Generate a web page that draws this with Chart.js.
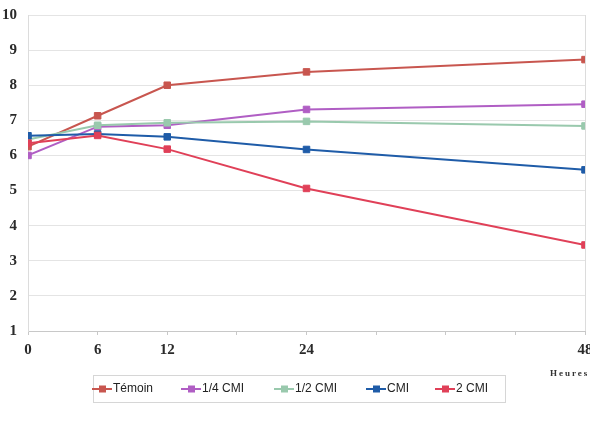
<!DOCTYPE html>
<html>
<head>
<meta charset="utf-8">
<script src="https://cdn.jsdelivr.net/npm/chart.js@4/dist/chart.umd.min.js"></script>
<style>
  html, body { margin: 0; padding: 0; background: #fff; overflow: hidden; }
  #wrap { width: 600px; height: 427px; }
</style>
</head>
<body>
<div id="wrap"><canvas id="c" width="600" height="427"></canvas></div>
<script>
const hours = [0, 6, 12, 24, 48];
const labeledHours = [0, 6, 12, 24, 48];
const seriesNames = ['Témoin', '1/4 CMI', '1/2 CMI', 'CMI', '2 CMI'];
const temoin   = [6.25, 7.13, 8.00, 8.38, 8.73];
const quartCMI = [6.00, 6.82, 6.86, 7.31, 7.46];
const demiCMI  = [6.45, 6.86, 6.93, 6.97, 6.84];
const cmi      = [6.56, 6.61, 6.53, 6.17, 5.59];
const deuxCMI  = [6.35, 6.57, 6.18, 5.06, 3.45];
const axisTitle = 'Heures';

const colors = ['#c8564f', '#b05ec4', '#99c9ad', '#1f5ca8', '#e04058'];
const values = [temoin, quartCMI, demiCMI, cmi, deuxCMI];

const datasets = values.map((v, i) => ({
  label: seriesNames[i],
  data: hours.map((h, j) => ({ x: h, y: v[j] })),
  borderColor: colors[i],
  backgroundColor: colors[i],
  borderWidth: 2,
  pointStyle: 'rect',
  pointRadius: 4.6,
  pointBorderWidth: 1,
  pointBorderColor: colors[i],
  pointBackgroundColor: colors[i],
  tension: 0,
  order: values.length - 1 - i
}));

const legendPlugin = {
  id: 'boxLegend',
  afterDraw(chart) {
    const ctx = chart.ctx;
    ctx.save();
    ctx.fillStyle = '#ffffff';
    ctx.strokeStyle = '#d6d6d6';
    ctx.lineWidth = 1;
    ctx.fillRect(93.5, 375.5, 412, 27);
    ctx.strokeRect(93.5, 375.5, 412, 27);
    const starts = [92, 181, 274, 366, 435];
    const cy = 389;
    ctx.font = '12px "Liberation Sans", Arial, sans-serif';
    ctx.textBaseline = 'middle';
    ctx.textAlign = 'left';
    chart.data.datasets.forEach((ds, i) => {
      const x0 = starts[i];
      ctx.strokeStyle = ds.borderColor;
      ctx.lineWidth = 2;
      ctx.beginPath();
      ctx.moveTo(x0, cy);
      ctx.lineTo(x0 + 20, cy);
      ctx.stroke();
      ctx.fillStyle = ds.borderColor;
      ctx.fillRect(x0 + 7, cy - 3.5, 7, 7);
      ctx.fillStyle = '#222';
      ctx.fillText(ds.label, x0 + 21, cy);
    });
    ctx.font = 'bold 9px "Liberation Serif", "Times New Roman", serif';
    ctx.fillStyle = '#333';
    ctx.textBaseline = 'middle';
    try { ctx.letterSpacing = '2px'; } catch (e) {}
    ctx.fillText(axisTitle, 550, 374);
    ctx.restore();
  }
};

new Chart(document.getElementById('c'), {
  type: 'line',
  data: { datasets },
  plugins: [legendPlugin],
  options: {
    responsive: false,
    animation: false,
    devicePixelRatio: 1,
    layout: { padding: { top: 15, right: 15, left: 0, bottom: 0 } },
    plugins: { legend: { display: false }, tooltip: { enabled: false } },
    scales: {
      x: {
        type: 'linear',
        min: 0,
        max: 48,
        afterFit(s) { s.height = 96; s.paddingLeft = 0; s.paddingRight = 0; },
        ticks: {
          stepSize: 6,
          autoSkip: false,
          maxRotation: 0,
          padding: 6,
          color: '#2a2a2a',
          font: { family: '"Liberation Serif", "Times New Roman", serif', size: 15, weight: 'bold' },
          callback: (v) => labeledHours.includes(v) ? String(v) : ''
        },
        grid: {
          drawOnChartArea: true,
          drawTicks: true,
          tickLength: 4,
          color: (c) => (c.tick && c.tick.value === 48) ? '#dcdcdc' : 'rgba(0,0,0,0)',
          tickColor: '#c8c8c8'
        },
        border: { display: true, color: '#c8c8c8', width: 1 }
      },
      y: {
        min: 1,
        max: 10,
        afterFit(s) { s.width = 28; s.paddingTop = 0; s.paddingBottom = 0; },
        ticks: {
          stepSize: 1,
          padding: 11,
          color: '#2a2a2a',
          font: { family: '"Liberation Serif", "Times New Roman", serif', size: 15, weight: 'bold' }
        },
        grid: {
          drawTicks: false,
          color: '#e4e4e4'
        },
        border: { display: true, color: '#dcdcdc', width: 1 }
      }
    }
  }
});
</script>
</body>
</html>
